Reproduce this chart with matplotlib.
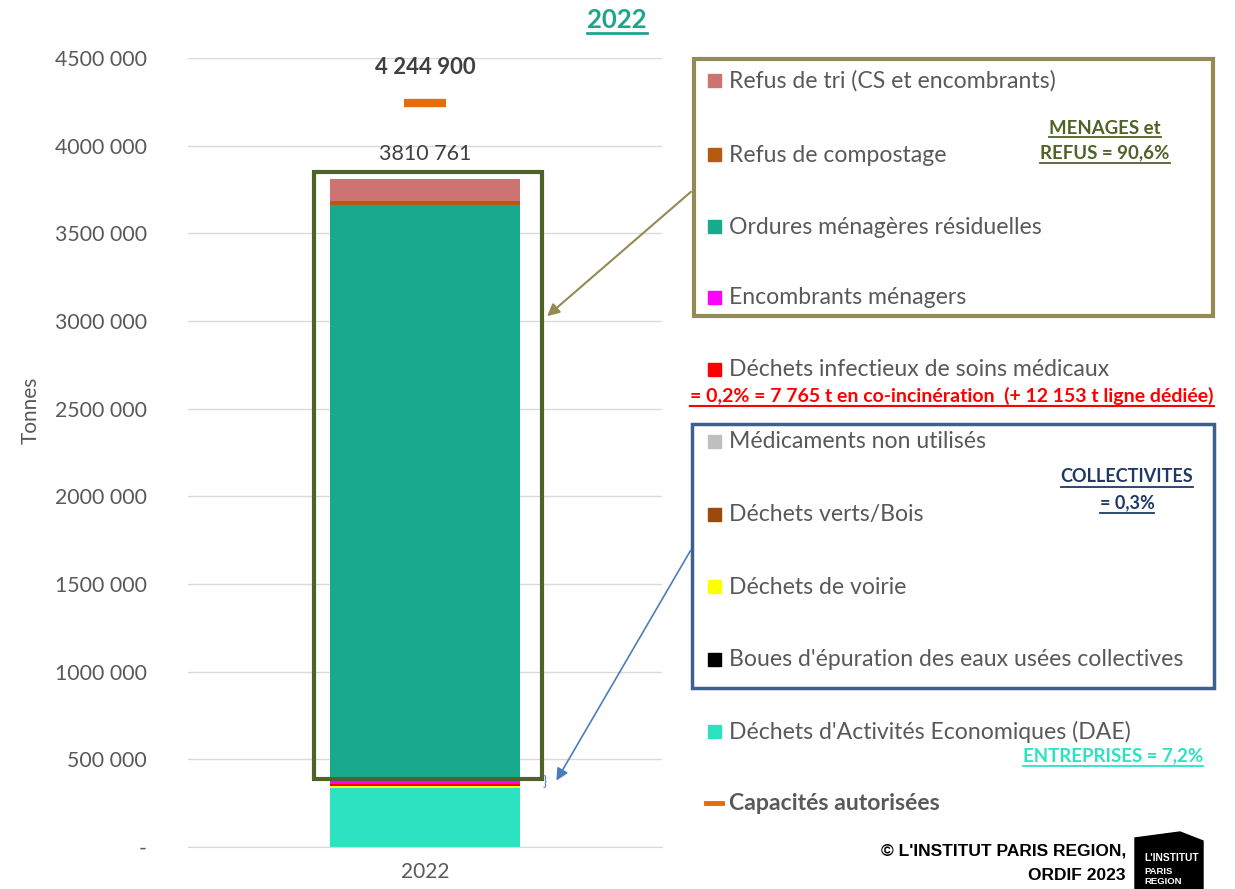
import matplotlib
matplotlib.use('Agg')
import matplotlib.pyplot as plt
import numpy as np
from matplotlib.patches import Rectangle, Polygon, FancyArrowPatch
from matplotlib.lines import Line2D
from matplotlib.ticker import FuncFormatter

W, H = 1235, 889
plt.rcParams['font.family'] = ['Lato', 'DejaVu Sans']

# data (stacked from bottom to top)
year = '2022'
categories = [
    "Déchets d'Activités Economiques (DAE)",
    "Boues d'épuration des eaux usées collectives",
    "Déchets de voirie",
    "Déchets verts/Bois",
    "Médicaments non utilisés",
    "Déchets infectieux de soins médicaux",
    "Encombrants ménagers",
    "Ordures ménagères résiduelles",
    "Refus de compostage",
    "Refus de tri (CS et encombrants)",
]
values = [338000, 1000, 8000, 1500, 500, 7765, 45000, 3259635, 23000, 126361]
colors = ['#2CE2C1', '#000000', '#FFFF00', '#9C4A0C', '#BFBFBF',
          '#FF0000', '#FF00FF', '#17AA8C', '#B85A0D', '#CD7371']
capacity = 4244900
cap_label = '4 244 900'
y_ticks = list(range(0, 4500001, 500000))

GREY = '#595959'
DARK = '#404040'


def px(x, y):
    return x / W, 1 - y / H


def fmt(v, pos=None):
    v = int(round(v))
    if v == 0:
        return '-'
    return f'{v // 1000} {v % 1000:03d}'


fig = plt.figure(figsize=(W / 100, H / 100), dpi=100)
ax = fig.add_axes([188 / W, 1 - 847 / H, 474 / W, 789 / H])

bottoms = np.concatenate([[0], np.cumsum(values)[:-1]])
for v, b, c in zip(values, bottoms, colors):
    ax.bar(0, v, bottom=b, width=0.4, color=c, linewidth=0)
total = sum(values)

ax.plot([0], [capacity], marker='_', markersize=30, mew=6, color='#E46C0A', ls='none')
ax.annotate(cap_label, (0, capacity), xytext=(0, 25), textcoords='offset pixels',
            ha='center', va='bottom', fontsize=16, fontweight='bold', color=DARK)
ax.annotate(fmt(total), (0, total), xytext=(0, 15), textcoords='offset pixels',
            ha='center', va='bottom', fontsize=15.5, color=DARK)

ax.set_xlim(-0.5, 0.5)
ax.set_ylim(0, 4500000)
ax.set_xticks([0])
ax.set_xticklabels([year], fontsize=15, color=GREY)
ax.set_yticks(y_ticks)
ax.yaxis.set_major_formatter(FuncFormatter(fmt))
ax.tick_params(axis='y', length=0, pad=29.5, labelsize=15.3, labelcolor=GREY)
ax.tick_params(axis='x', length=0, pad=11)
ax.grid(axis='y', color='#D9D9D9', lw=1)
ax.set_axisbelow(True)
for s in ['top', 'right', 'left']:
    ax.spines[s].set_visible(False)
ax.spines['bottom'].set_color('#D9D9D9')
ax.set_ylabel('Tonnes', fontsize=15, color=GREY)
ax.yaxis.set_label_coords(-0.31, 0.553)

to_underline = []

t = fig.text(*px(617, 20), year, ha='center', va='center', fontsize=18.5,
             fontweight='bold', color='#1FA58B')
to_underline.append((t, '#1FA58B', 2))

# box around the bar
fig.add_artist(Rectangle(px(314, 779), 228 / W, 607 / H, fill=False,
                         ec='#4F6228', lw=3, transform=fig.transFigure))

# legend, top item first
leg_y = [81, 155, 227, 298, 370, 442, 515, 587, 660, 732]
for name, c, y in zip(categories[::-1], colors[::-1], leg_y):
    fig.add_artist(Rectangle(px(708, y + 6), 13 / W, 13 / H, color=c,
                             transform=fig.transFigure))
    fig.text(*px(729, y), name, ha='left', va='center', fontsize=16.6, color=GREY)
fig.add_artist(Line2D([706 / W, 722 / W], [1 - 803 / H] * 2, color='#E46C0A', lw=3.5))
fig.text(*px(729, 804), 'Capacités autorisées', ha='left', va='center',
         fontsize=16.6, fontweight='bold', color=GREY)

# group boxes
fig.add_artist(Rectangle(px(694, 316), 519 / W, 257 / H, fill=False,
                         ec='#948A54', lw=3, transform=fig.transFigure))
fig.add_artist(Rectangle(px(692, 688), 522 / W, 264 / H, fill=False,
                         ec='#3F5F8F', lw=2.5, transform=fig.transFigure))
fig.add_artist(FancyArrowPatch(px(693, 190), px(545, 318), transform=fig.transFigure,
                               arrowstyle='-|>', mutation_scale=18, color='#948A54', lw=1.5))
fig.add_artist(FancyArrowPatch(px(692, 548), px(555, 783), transform=fig.transFigure,
                               arrowstyle='-|>', mutation_scale=18, color='#4A7EBB', lw=1.2))
fig.text(*px(545, 782), '}', ha='center', va='center', fontsize=10, color='#4A7EBB')

# group annotations
for txt, y in [('MENAGES et', 128), ('REFUS = 90,6%', 153)]:
    t = fig.text(*px(1105, y), txt, ha='center', va='center', fontsize=13.4,
                 fontweight='bold', color='#4F6228')
    to_underline.append((t, '#4F6228', 1.3))
for txt, y in [('COLLECTIVITES', 477), ('= 0,3%', 503)]:
    t = fig.text(*px(1127, y), txt, ha='center', va='center', fontsize=13,
                 fontweight='bold', color='#1F3864')
    to_underline.append((t, '#1F3864', 1.3))
t = fig.text(*px(952, 396), '= 0,2% = 7 765 t en co-incinération  (+ 12 153 t ligne dédiée)',
             ha='center', va='center', fontsize=14, fontweight='bold', color='#FF0000')
to_underline.append((t, '#FF0000', 1.5))
t = fig.text(*px(1203, 756), 'ENTREPRISES = 7,2%', ha='right', va='center', fontsize=13.4,
             fontweight='bold', color='#2CE2C1')
to_underline.append((t, '#2CE2C1', 1.3))

# footer
for txt, y in [("© L'INSTITUT PARIS REGION,", 851), ('ORDIF 2023', 875)]:
    fig.text(*px(1126, y), txt, ha='right', va='center', fontsize=12.5,
             fontweight='bold', color='black', family='Liberation Sans')
logo = [(1135, 838), (1180, 832), (1203, 841), (1203, 889), (1135, 889)]
fig.add_artist(Polygon([px(x, y) for x, y in logo], closed=True, color='black',
                       transform=fig.transFigure))
for txt, y, fs in [("L'INSTITUT", 858, 7.4), ('PARIS', 871, 6.8), ('REGION', 882, 6.8)]:
    fig.text(*px(1144, y), txt, ha='left', va='center', fontsize=fs,
             fontweight='bold', color='white', family='Liberation Sans')

fig.canvas.draw()
inv = fig.transFigure.inverted()
for t, c, lw in to_underline:
    bb = t.get_window_extent()
    (x0, y0), (x1, _) = inv.transform([[bb.x0, bb.y0 - 1], [bb.x1, bb.y0]])
    fig.add_artist(Line2D([x0, x1], [y0, y0], color=c, lw=lw))

fig.savefig('out.png', dpi=100)
